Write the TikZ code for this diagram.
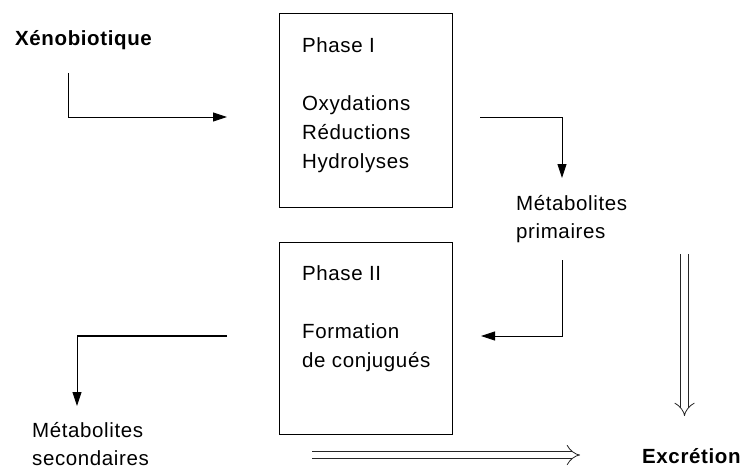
\documentclass[tikz,border=0pt]{standalone}
\usepackage{fontspec}
\setmainfont{Liberation Sans}
\newfontfamily\labfont[LetterSpace=3]{Liberation Sans}
\usetikzlibrary{arrows.meta}
\begin{document}
\begin{tikzpicture}[x=1pt,y=-1pt,
  lab/.style={inner sep=0pt, anchor=base west, align=left,
    font=\labfont\fontsize{20.5}{29}\selectfont, text=black},
  labbold/.style={lab, font=\labfont\bfseries\fontsize{20.5}{29}\selectfont},
  phasebox/.style={draw=black, line width=0.9pt, inner sep=0pt},
  flow/.style={draw=black, line width=0.9pt,
    -{Triangle[length=14pt,width=9pt]}},
  thickline/.style={draw=black, line width=2.2pt},
  excr/.style={draw=black!85, double=white, line width=0.8pt,
    double distance=6.5pt, -{Implies}}]
  \useasboundingbox (0,0) rectangle (744,468);

  % phase boxes
  \node[phasebox, minimum width=173pt, minimum height=194pt, anchor=north west]
    (p1) at (279,13) {};
  \node[phasebox, minimum width=173pt, minimum height=192pt, anchor=north west]
    (p2) at (279,242) {};

  % texts (multi-line nodes are placed by the baseline of their last line)
  \node[labbold] (xeno) at (15,46) {Xénobiotique};
  \node[lab] (p1txt) at (302,168) {Phase I\\[29pt]Oxydations\\Réductions\\Hydrolyses};
  \node[lab] (prim) at (516,238) {Métabolites\\[-1pt]primaires};
  \node[lab] (p2txt) at (302,367) {Phase II\\[29pt]Formation\\de conjugués};
  \node[lab] (sec) at (32,465) {Métabolites\\[-1pt]secondaires};
  \node[labbold] (excr) at (642,463) {Excrétion};

  % connector end points
  \coordinate (xA) at (68,73);
  \coordinate (xB) at (68,117);
  \coordinate (xC) at (227,117);
  \coordinate (aA) at (480,117);
  \coordinate (aB) at (562,117);
  \coordinate (aC) at (562,178);
  \coordinate (bA) at (562,260);
  \coordinate (bB) at (562,336);
  \coordinate (bC) at (481,336);
  \coordinate (cA) at (227,336);
  \coordinate (cB) at (77,336);
  \coordinate (cC) at (77,406);
  \coordinate (dA) at (684.5,254);
  \coordinate (dB) at (684.5,416);
  \coordinate (eA) at (312,455);
  \coordinate (eB) at (580,455);

  % connectors
  \draw[flow] (xA) -- (xB) -- (xC);
  \draw[flow] (aA) -- (aB) -- (aC);
  \draw[flow] (bA) -- (bB) -- (bC);
  \draw[thickline] (cA) -- (cB);
  \draw[flow] (cB) -- (cC);
  \draw[excr] (dA) -- (dB);
  \draw[excr] (eA) -- (eB);
\end{tikzpicture}
\end{document}
